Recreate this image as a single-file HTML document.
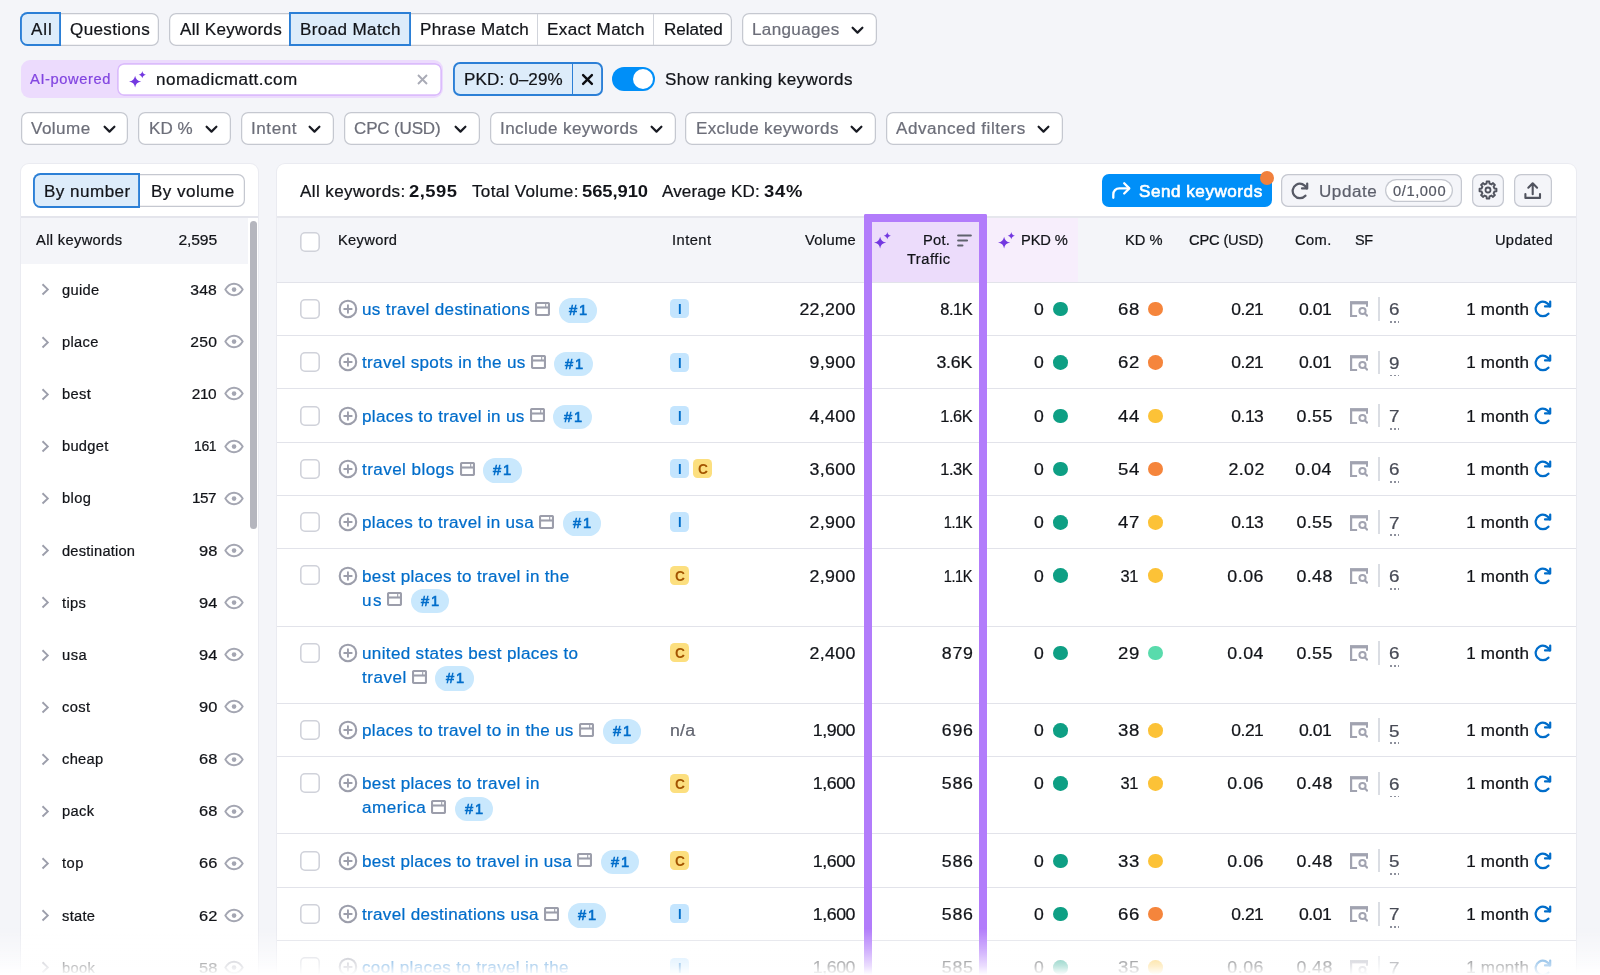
<!DOCTYPE html>
<html lang="en"><head><meta charset="utf-8"><title>Keyword Magic Tool</title>
<style>
*{box-sizing:border-box}
html,body{margin:0;padding:0}
body{width:1600px;height:975px;overflow:hidden;position:relative;background:#f4f5f9;font-family:"Liberation Sans",Arial,sans-serif;font-size:16px;color:#121419}
.abs{position:absolute}
.t{position:absolute;line-height:20px;white-space:nowrap;transform-origin:0 0;-webkit-text-stroke:.22px}
.box{position:absolute;border-radius:7px;background:#fff;box-shadow:inset 0 0 0 1.250px #c5c8d0}
.sel{position:absolute;background:#ddecfa;box-shadow:inset 0 0 0 1.900px #2b7fd6}
.vl{position:absolute;width:1px;background:#d1d4db}
.panel{position:absolute;background:#fff;border-radius:8px;box-shadow:0 0 0 1px #eaebf1}
.ln{position:absolute;left:277px;width:1299px;height:1.300px;background:#e2e3ea}
.cb{position:absolute;width:19.700px;height:20px;box-shadow:inset 0 0 0 1.600px #d0d2da;border-radius:5px;background:#fff}
.b1{position:absolute;width:38.600px;height:24.600px;border-radius:12.300px;background:#c9e8fd}
.int{position:absolute;height:19.200px;width:19.200px;border-radius:4.500px}
.int.I{background:#c4e5fe}
.int.C{background:#fcdf7f}
.dot{position:absolute;width:14.600px;height:14.600px;border-radius:50%}
.dot.t0{background:#0e9f84}.dot.o{background:#f5853c}.dot.y{background:#fcc237}.dot.g{background:#59dbac}
.dots{position:absolute;width:9.800px;height:1.900px;background:repeating-linear-gradient(to right,#8d909c 0,#8d909c 2px,transparent 2px,transparent 3.800px)}
</style></head><body>
<div id="app" style="will-change:transform;position:absolute;left:0;top:0;width:1600px;height:975px;overflow:hidden">

<div class="box" style="left:21px;top:12.500px;width:138px;height:33.500px"></div>
<div class="sel" style="left:20.400px;top:11.900px;width:40.600px;height:34.600px;border-radius:7.500px 0 0 7.500px"></div>
<div class="t" style="top:20.26px;font-size:16px;letter-spacing:0.83px;left:31.02px;transform:scaleX(1.065);">All</div>
<div class="t" style="top:20.26px;font-size:16px;letter-spacing:0.35px;left:70.27px;transform:scaleX(1.065);">Questions</div>
<div class="box" style="left:169px;top:12.500px;width:563px;height:33.500px"></div>
<div class="sel" style="left:289.300px;top:11.900px;width:121.400px;height:34.600px"></div>
<div class="vl" style="left:537px;top:13.500px;height:31.500px"></div>
<div class="vl" style="left:653px;top:13.500px;height:31.500px"></div>
<div class="t" style="top:20.26px;font-size:16px;letter-spacing:0.27px;left:179.52px;transform:scaleX(1.065);">All Keywords</div>
<div class="t" style="top:20.26px;font-size:16px;letter-spacing:0.36px;left:300.27px;transform:scaleX(1.065);">Broad Match</div>
<div class="t" style="top:20.26px;font-size:16px;letter-spacing:0.31px;left:419.52px;transform:scaleX(1.065);">Phrase Match</div>
<div class="t" style="top:20.26px;font-size:16px;letter-spacing:0.35px;left:547.02px;transform:scaleX(1.065);">Exact Match</div>
<div class="t" style="top:20.26px;font-size:16px;letter-spacing:0px;left:663.77px;transform:scaleX(1.065);">Related</div>
<div class="box" style="left:742px;top:12.500px;width:135px;height:33.500px"></div>
<div class="t" style="top:20.26px;font-size:16px;letter-spacing:0.34px;left:752.02px;transform:scaleX(1.065);color:#6c6e79;">Languages</div>
<svg class="abs" style="left:851px;top:25.7px" viewBox="0 0 13 9" width="13" height="9"><path d="M1.600 1.700l4.900 4.900 4.900-4.900" fill="none" stroke="#191b23" stroke-width="2.200" stroke-linecap="round" stroke-linejoin="round"/></svg>
<div class="abs" style="left:21px;top:60.200px;width:422px;height:37.400px;border-radius:9px;background:#ecdbfd"></div>
<div class="t" style="top:69.22px;font-size:14.67px;letter-spacing:0.6px;left:30.09px;transform:scaleX(1.002);color:#8245e0;">AI-powered</div>
<div class="abs" style="left:117px;top:62.500px;width:325px;height:33px;border-radius:7px;background:#fff;box-shadow:inset 0 0 0 1.700px #dbbcfc"></div>
<svg class="abs" style="left:129.1px;top:71.2px" viewBox="0 0 17 17" width="17" height="17"><path d="M6.1 4.7C6.77 8.24 8.54 9.95 12.2 10.6C8.54 11.25 6.77 12.96 6.1 16.5C5.43 12.96 3.66 11.25 0 10.6C3.66 9.95 5.43 8.24 6.1 4.7zM13.3 0.05C13.7 2.24 14.74 3.3 16.9 3.7C14.74 4.1 13.7 5.16 13.3 7.35C12.9 5.16 11.86 4.1 9.7 3.7C11.86 3.3 12.9 2.24 13.3 0.05z" fill="#7338e0"/></svg>
<div class="t" style="top:69.96px;font-size:16px;letter-spacing:0.45px;left:156.27px;transform:scaleX(1.065);">nomadicmatt.com</div>
<svg class="abs" style="left:417px;top:73.500px" width="11" height="11" viewBox="0 0 11 11"><path d="M1 1l9 9M10 1l-9 9" stroke="#a9abb6" stroke-width="1.900" fill="none"/></svg>
<div class="sel" style="left:452.800px;top:61.900px;width:150.400px;height:34px;border-radius:7px"></div>
<div class="abs" style="left:571.600px;top:63px;width:1.500px;height:32px;background:#2b7fd6"></div>
<div class="t" style="top:69.66px;font-size:16px;letter-spacing:0.12px;left:463.77px;transform:scaleX(1.065);">PKD: 0–29%</div>
<svg class="abs" style="left:580.600px;top:72.600px" width="13" height="13" viewBox="0 0 13 13"><path d="M2.100 2.100l8.800 8.800M10.900 2.100l-8.800 8.800" stroke="#0c0d12" stroke-width="2.400" stroke-linecap="round" fill="none"/></svg>
<div class="abs" style="left:612px;top:67px;width:42.600px;height:23.600px;border-radius:12px;background:#008ff8"></div>
<div class="abs" style="left:632.600px;top:68.800px;width:20px;height:20px;border-radius:50%;background:#fff"></div>
<div class="t" style="top:69.96px;font-size:16px;letter-spacing:0.35px;left:664.52px;transform:scaleX(1.065);">Show ranking keywords</div>
<div class="box" style="left:21px;top:112.300px;width:107.25px;height:33px"></div>
<div class="t" style="top:119.01px;font-size:16px;letter-spacing:0.44px;left:31.27px;transform:scaleX(1.065);color:#6c6e79;">Volume</div>
<svg class="abs" style="left:102.5px;top:125.2px" viewBox="0 0 13 9" width="13" height="9"><path d="M1.600 1.700l4.900 4.900 4.900-4.900" fill="none" stroke="#191b23" stroke-width="2.200" stroke-linecap="round" stroke-linejoin="round"/></svg>
<div class="box" style="left:138.25px;top:112.300px;width:93px;height:33px"></div>
<div class="t" style="top:119.01px;font-size:16px;letter-spacing:0.05px;left:148.77px;transform:scaleX(1.065);color:#6c6e79;">KD %</div>
<svg class="abs" style="left:205px;top:125.2px" viewBox="0 0 13 9" width="13" height="9"><path d="M1.600 1.700l4.900 4.900 4.900-4.900" fill="none" stroke="#191b23" stroke-width="2.200" stroke-linecap="round" stroke-linejoin="round"/></svg>
<div class="box" style="left:240.75px;top:112.300px;width:93.25px;height:33px"></div>
<div class="t" style="top:119.01px;font-size:16px;letter-spacing:0.53px;left:250.77px;transform:scaleX(1.065);color:#6c6e79;">Intent</div>
<svg class="abs" style="left:307.8px;top:125.2px" viewBox="0 0 13 9" width="13" height="9"><path d="M1.600 1.700l4.900 4.900 4.900-4.900" fill="none" stroke="#191b23" stroke-width="2.200" stroke-linecap="round" stroke-linejoin="round"/></svg>
<div class="box" style="left:344.25px;top:112.300px;width:135.25px;height:33px"></div>
<div class="t" style="top:119.01px;font-size:16px;letter-spacing:-0.16px;left:354.02px;transform:scaleX(1.065);color:#6c6e79;">CPC (USD)</div>
<svg class="abs" style="left:453.75px;top:125.2px" viewBox="0 0 13 9" width="13" height="9"><path d="M1.600 1.700l4.900 4.900 4.900-4.900" fill="none" stroke="#191b23" stroke-width="2.200" stroke-linecap="round" stroke-linejoin="round"/></svg>
<div class="box" style="left:489.5px;top:112.300px;width:186px;height:33px"></div>
<div class="t" style="top:119.01px;font-size:16px;letter-spacing:0.39px;left:499.52px;transform:scaleX(1.065);color:#6c6e79;">Include keywords</div>
<svg class="abs" style="left:649.5px;top:125.2px" viewBox="0 0 13 9" width="13" height="9"><path d="M1.600 1.700l4.900 4.900 4.900-4.900" fill="none" stroke="#191b23" stroke-width="2.200" stroke-linecap="round" stroke-linejoin="round"/></svg>
<div class="box" style="left:685px;top:112.300px;width:190.75px;height:33px"></div>
<div class="t" style="top:119.01px;font-size:16px;letter-spacing:0.32px;left:695.77px;transform:scaleX(1.065);color:#6c6e79;">Exclude keywords</div>
<svg class="abs" style="left:850px;top:125.2px" viewBox="0 0 13 9" width="13" height="9"><path d="M1.600 1.700l4.900 4.900 4.900-4.900" fill="none" stroke="#191b23" stroke-width="2.200" stroke-linecap="round" stroke-linejoin="round"/></svg>
<div class="box" style="left:885.75px;top:112.300px;width:176.75px;height:33px"></div>
<div class="t" style="top:119.01px;font-size:16px;letter-spacing:0.5px;left:896.27px;transform:scaleX(1.065);color:#6c6e79;">Advanced filters</div>
<svg class="abs" style="left:1036.5px;top:125.2px" viewBox="0 0 13 9" width="13" height="9"><path d="M1.600 1.700l4.900 4.900 4.900-4.900" fill="none" stroke="#191b23" stroke-width="2.200" stroke-linecap="round" stroke-linejoin="round"/></svg>
<div class="panel" style="left:21.300px;top:164px;width:236.600px;height:830px"></div>
<div class="box" style="left:33.750px;top:173.750px;width:211.500px;height:33.500px"></div>
<div class="sel" style="left:33.300px;top:173.200px;width:106.500px;height:34.600px;border-radius:7.500px 0 0 7.500px"></div>
<div class="t" style="top:181.66px;font-size:16px;letter-spacing:0.45px;left:44.02px;transform:scaleX(1.065);">By number</div>
<div class="t" style="top:181.66px;font-size:16px;letter-spacing:0.43px;left:151.02px;transform:scaleX(1.065);">By volume</div>
<div class="abs" style="left:21px;top:216.300px;width:237px;height:1.300px;background:#e4e5ec"></div>
<div class="abs" style="left:21px;top:217.600px;width:227px;height:46.400px;background:#f4f5f9"></div>
<div class="t" style="top:230.02px;font-size:14.67px;letter-spacing:0.34px;left:35.79px;transform:scaleX(1.002);">All keywords</div>
<div class="t" style="top:230.02px;font-size:14.67px;letter-spacing:-0.14px;right:1383.41px;transform-origin:100% 0;transform:scaleX(1.070);">2,595</div>
<div class="abs" style="left:249.800px;top:221px;width:7px;height:308px;border-radius:3.500px;background:#b5b6be"></div>
<svg class="abs" style="left:41px;top:283.45px" viewBox="0 0 9 13" width="9" height="13"><path d="M1.500 1.300l5.300 5.100-5.300 5.100" fill="none" stroke="#9c9eab" stroke-width="1.900" stroke-linejoin="miter"/></svg>
<div class="t" style="top:279.77px;font-size:14.67px;letter-spacing:0.3px;left:61.59px;transform:scaleX(1.002);">guide</div>
<div class="t" style="top:279.77px;font-size:14.67px;letter-spacing:0.15px;right:1382.9px;transform-origin:100% 0;transform:scaleX(1.070);">348</div>
<svg class="abs" style="left:224.200px;top:282.15px" viewBox="0 0 20 15" width="20" height="15"><path d="M1.300 7.500C3.600 3.700 6.500 1.700 10 1.700s6.400 2 8.700 5.800c-2.300 3.800-5.200 5.800-8.700 5.800S3.600 11.300 1.300 7.500z" fill="none" stroke="#a4a6b2" stroke-width="1.900" stroke-linejoin="round"/><circle cx="10.050" cy="7.600" r="2.300" fill="#a4a6b2"/></svg>
<svg class="abs" style="left:41px;top:335.6px" viewBox="0 0 9 13" width="9" height="13"><path d="M1.500 1.300l5.300 5.100-5.300 5.100" fill="none" stroke="#9c9eab" stroke-width="1.900" stroke-linejoin="miter"/></svg>
<div class="t" style="top:331.92px;font-size:14.67px;letter-spacing:0.3px;left:61.59px;transform:scaleX(1.002);">place</div>
<div class="t" style="top:331.92px;font-size:14.67px;letter-spacing:0.25px;right:1382.79px;transform-origin:100% 0;transform:scaleX(1.070);">250</div>
<svg class="abs" style="left:224.200px;top:334.3px" viewBox="0 0 20 15" width="20" height="15"><path d="M1.300 7.500C3.600 3.700 6.500 1.700 10 1.700s6.400 2 8.700 5.800c-2.300 3.800-5.200 5.800-8.700 5.800S3.600 11.300 1.300 7.500z" fill="none" stroke="#a4a6b2" stroke-width="1.900" stroke-linejoin="round"/><circle cx="10.050" cy="7.600" r="2.300" fill="#a4a6b2"/></svg>
<svg class="abs" style="left:41px;top:387.75px" viewBox="0 0 9 13" width="9" height="13"><path d="M1.500 1.300l5.300 5.100-5.300 5.100" fill="none" stroke="#9c9eab" stroke-width="1.900" stroke-linejoin="miter"/></svg>
<div class="t" style="top:384.07px;font-size:14.67px;letter-spacing:0.35px;left:61.59px;transform:scaleX(1.002);">best</div>
<div class="t" style="top:384.07px;font-size:14.67px;letter-spacing:-0.45px;right:1383.54px;transform-origin:100% 0;transform:scaleX(1.051);">210</div>
<svg class="abs" style="left:224.200px;top:386.45px" viewBox="0 0 20 15" width="20" height="15"><path d="M1.300 7.500C3.600 3.700 6.500 1.700 10 1.700s6.400 2 8.700 5.800c-2.300 3.800-5.200 5.800-8.700 5.800S3.600 11.300 1.300 7.500z" fill="none" stroke="#a4a6b2" stroke-width="1.900" stroke-linejoin="round"/><circle cx="10.050" cy="7.600" r="2.300" fill="#a4a6b2"/></svg>
<svg class="abs" style="left:41px;top:439.9px" viewBox="0 0 9 13" width="9" height="13"><path d="M1.500 1.300l5.300 5.100-5.300 5.100" fill="none" stroke="#9c9eab" stroke-width="1.900" stroke-linejoin="miter"/></svg>
<div class="t" style="top:436.22px;font-size:14.67px;letter-spacing:0.26px;left:61.59px;transform:scaleX(1.002);">budget</div>
<div class="t" style="top:436.22px;font-size:14.67px;letter-spacing:-0.45px;right:1383.54px;transform-origin:100% 0;transform:scaleX(0.955);">161</div>
<svg class="abs" style="left:224.200px;top:438.6px" viewBox="0 0 20 15" width="20" height="15"><path d="M1.300 7.500C3.600 3.700 6.500 1.700 10 1.700s6.400 2 8.700 5.800c-2.300 3.800-5.200 5.800-8.700 5.800S3.600 11.300 1.300 7.500z" fill="none" stroke="#a4a6b2" stroke-width="1.900" stroke-linejoin="round"/><circle cx="10.050" cy="7.600" r="2.300" fill="#a4a6b2"/></svg>
<svg class="abs" style="left:41px;top:492.05px" viewBox="0 0 9 13" width="9" height="13"><path d="M1.500 1.300l5.300 5.100-5.300 5.100" fill="none" stroke="#9c9eab" stroke-width="1.900" stroke-linejoin="miter"/></svg>
<div class="t" style="top:488.37px;font-size:14.67px;letter-spacing:0.35px;left:61.59px;transform:scaleX(1.002);">blog</div>
<div class="t" style="top:488.37px;font-size:14.67px;letter-spacing:-0.45px;right:1383.54px;transform-origin:100% 0;transform:scaleX(1.042);">157</div>
<svg class="abs" style="left:224.200px;top:490.75px" viewBox="0 0 20 15" width="20" height="15"><path d="M1.300 7.500C3.600 3.700 6.500 1.700 10 1.700s6.400 2 8.700 5.800c-2.300 3.800-5.200 5.800-8.700 5.800S3.600 11.300 1.300 7.500z" fill="none" stroke="#a4a6b2" stroke-width="1.900" stroke-linejoin="round"/><circle cx="10.050" cy="7.600" r="2.300" fill="#a4a6b2"/></svg>
<svg class="abs" style="left:41px;top:544.2px" viewBox="0 0 9 13" width="9" height="13"><path d="M1.500 1.300l5.300 5.100-5.300 5.100" fill="none" stroke="#9c9eab" stroke-width="1.900" stroke-linejoin="miter"/></svg>
<div class="t" style="top:540.52px;font-size:14.67px;letter-spacing:0.2px;left:61.59px;transform:scaleX(1.002);">destination</div>
<div class="t" style="top:540.52px;font-size:14.67px;letter-spacing:-0.05px;right:1383.1px;transform-origin:100% 0;transform:scaleX(1.120);">98</div>
<svg class="abs" style="left:224.200px;top:542.9px" viewBox="0 0 20 15" width="20" height="15"><path d="M1.300 7.500C3.600 3.700 6.500 1.700 10 1.700s6.400 2 8.700 5.800c-2.300 3.800-5.200 5.800-8.700 5.800S3.600 11.300 1.300 7.500z" fill="none" stroke="#a4a6b2" stroke-width="1.900" stroke-linejoin="round"/><circle cx="10.050" cy="7.600" r="2.300" fill="#a4a6b2"/></svg>
<svg class="abs" style="left:41px;top:596.35px" viewBox="0 0 9 13" width="9" height="13"><path d="M1.500 1.300l5.300 5.100-5.300 5.100" fill="none" stroke="#9c9eab" stroke-width="1.900" stroke-linejoin="miter"/></svg>
<div class="t" style="top:592.67px;font-size:14.67px;letter-spacing:0.35px;left:61.59px;transform:scaleX(1.002);">tips</div>
<div class="t" style="top:592.67px;font-size:14.67px;letter-spacing:-0.05px;right:1383.1px;transform-origin:100% 0;transform:scaleX(1.120);">94</div>
<svg class="abs" style="left:224.200px;top:595.05px" viewBox="0 0 20 15" width="20" height="15"><path d="M1.300 7.500C3.600 3.700 6.500 1.700 10 1.700s6.400 2 8.700 5.800c-2.300 3.800-5.200 5.800-8.700 5.800S3.600 11.300 1.300 7.500z" fill="none" stroke="#a4a6b2" stroke-width="1.900" stroke-linejoin="round"/><circle cx="10.050" cy="7.600" r="2.300" fill="#a4a6b2"/></svg>
<svg class="abs" style="left:41px;top:648.5px" viewBox="0 0 9 13" width="9" height="13"><path d="M1.500 1.300l5.300 5.100-5.300 5.100" fill="none" stroke="#9c9eab" stroke-width="1.900" stroke-linejoin="miter"/></svg>
<div class="t" style="top:644.82px;font-size:14.67px;letter-spacing:0.46px;left:61.59px;transform:scaleX(1.002);">usa</div>
<div class="t" style="top:644.82px;font-size:14.67px;letter-spacing:-0.05px;right:1383.1px;transform-origin:100% 0;transform:scaleX(1.120);">94</div>
<svg class="abs" style="left:224.200px;top:647.2px" viewBox="0 0 20 15" width="20" height="15"><path d="M1.300 7.500C3.600 3.700 6.500 1.700 10 1.700s6.400 2 8.700 5.800c-2.300 3.800-5.200 5.800-8.700 5.800S3.600 11.300 1.300 7.500z" fill="none" stroke="#a4a6b2" stroke-width="1.900" stroke-linejoin="round"/><circle cx="10.050" cy="7.600" r="2.300" fill="#a4a6b2"/></svg>
<svg class="abs" style="left:41px;top:700.65px" viewBox="0 0 9 13" width="9" height="13"><path d="M1.500 1.300l5.300 5.100-5.300 5.100" fill="none" stroke="#9c9eab" stroke-width="1.900" stroke-linejoin="miter"/></svg>
<div class="t" style="top:696.97px;font-size:14.67px;letter-spacing:0.35px;left:61.59px;transform:scaleX(1.002);">cost</div>
<div class="t" style="top:696.97px;font-size:14.67px;letter-spacing:0.14px;right:1382.88px;transform-origin:100% 0;transform:scaleX(1.120);">90</div>
<svg class="abs" style="left:224.200px;top:699.35px" viewBox="0 0 20 15" width="20" height="15"><path d="M1.300 7.500C3.600 3.700 6.500 1.700 10 1.700s6.400 2 8.700 5.800c-2.300 3.800-5.200 5.800-8.700 5.800S3.600 11.300 1.300 7.500z" fill="none" stroke="#a4a6b2" stroke-width="1.900" stroke-linejoin="round"/><circle cx="10.050" cy="7.600" r="2.300" fill="#a4a6b2"/></svg>
<svg class="abs" style="left:41px;top:752.8px" viewBox="0 0 9 13" width="9" height="13"><path d="M1.500 1.300l5.300 5.100-5.300 5.100" fill="none" stroke="#9c9eab" stroke-width="1.900" stroke-linejoin="miter"/></svg>
<div class="t" style="top:749.12px;font-size:14.67px;letter-spacing:0.3px;left:61.59px;transform:scaleX(1.002);">cheap</div>
<div class="t" style="top:749.12px;font-size:14.67px;letter-spacing:-0.05px;right:1383.1px;transform-origin:100% 0;transform:scaleX(1.120);">68</div>
<svg class="abs" style="left:224.200px;top:751.5px" viewBox="0 0 20 15" width="20" height="15"><path d="M1.300 7.500C3.600 3.700 6.500 1.700 10 1.700s6.400 2 8.700 5.800c-2.300 3.800-5.200 5.800-8.700 5.800S3.600 11.300 1.300 7.500z" fill="none" stroke="#a4a6b2" stroke-width="1.900" stroke-linejoin="round"/><circle cx="10.050" cy="7.600" r="2.300" fill="#a4a6b2"/></svg>
<svg class="abs" style="left:41px;top:804.95px" viewBox="0 0 9 13" width="9" height="13"><path d="M1.500 1.300l5.300 5.100-5.300 5.100" fill="none" stroke="#9c9eab" stroke-width="1.900" stroke-linejoin="miter"/></svg>
<div class="t" style="top:801.27px;font-size:14.67px;letter-spacing:0.35px;left:61.59px;transform:scaleX(1.002);">pack</div>
<div class="t" style="top:801.27px;font-size:14.67px;letter-spacing:-0.05px;right:1383.1px;transform-origin:100% 0;transform:scaleX(1.120);">68</div>
<svg class="abs" style="left:224.200px;top:803.65px" viewBox="0 0 20 15" width="20" height="15"><path d="M1.300 7.500C3.600 3.700 6.500 1.700 10 1.700s6.400 2 8.700 5.800c-2.300 3.800-5.200 5.800-8.700 5.800S3.600 11.300 1.300 7.500z" fill="none" stroke="#a4a6b2" stroke-width="1.900" stroke-linejoin="round"/><circle cx="10.050" cy="7.600" r="2.300" fill="#a4a6b2"/></svg>
<svg class="abs" style="left:41px;top:857.1px" viewBox="0 0 9 13" width="9" height="13"><path d="M1.500 1.300l5.300 5.100-5.300 5.100" fill="none" stroke="#9c9eab" stroke-width="1.900" stroke-linejoin="miter"/></svg>
<div class="t" style="top:853.42px;font-size:14.67px;letter-spacing:0.46px;left:61.59px;transform:scaleX(1.002);">top</div>
<div class="t" style="top:853.42px;font-size:14.67px;letter-spacing:-0.05px;right:1383.1px;transform-origin:100% 0;transform:scaleX(1.120);">66</div>
<svg class="abs" style="left:224.200px;top:855.8px" viewBox="0 0 20 15" width="20" height="15"><path d="M1.300 7.500C3.600 3.700 6.500 1.700 10 1.700s6.400 2 8.700 5.800c-2.300 3.800-5.200 5.800-8.700 5.800S3.600 11.300 1.300 7.500z" fill="none" stroke="#a4a6b2" stroke-width="1.900" stroke-linejoin="round"/><circle cx="10.050" cy="7.600" r="2.300" fill="#a4a6b2"/></svg>
<svg class="abs" style="left:41px;top:909.25px" viewBox="0 0 9 13" width="9" height="13"><path d="M1.500 1.300l5.300 5.100-5.300 5.100" fill="none" stroke="#9c9eab" stroke-width="1.900" stroke-linejoin="miter"/></svg>
<div class="t" style="top:905.57px;font-size:14.67px;letter-spacing:0.3px;left:61.59px;transform:scaleX(1.002);">state</div>
<div class="t" style="top:905.57px;font-size:14.67px;letter-spacing:-0.05px;right:1383.1px;transform-origin:100% 0;transform:scaleX(1.120);">62</div>
<svg class="abs" style="left:224.200px;top:907.95px" viewBox="0 0 20 15" width="20" height="15"><path d="M1.300 7.500C3.600 3.700 6.500 1.700 10 1.700s6.400 2 8.700 5.800c-2.300 3.800-5.200 5.800-8.700 5.800S3.600 11.300 1.300 7.500z" fill="none" stroke="#a4a6b2" stroke-width="1.900" stroke-linejoin="round"/><circle cx="10.050" cy="7.600" r="2.300" fill="#a4a6b2"/></svg>
<svg class="abs" style="left:41px;top:961.4px" viewBox="0 0 9 13" width="9" height="13"><path d="M1.500 1.300l5.300 5.100-5.300 5.100" fill="none" stroke="#9c9eab" stroke-width="1.900" stroke-linejoin="miter"/></svg>
<div class="t" style="top:957.72px;font-size:14.67px;letter-spacing:0.35px;left:61.59px;transform:scaleX(1.002);">book</div>
<div class="t" style="top:957.72px;font-size:14.67px;letter-spacing:-0.05px;right:1383.1px;transform-origin:100% 0;transform:scaleX(1.120);">58</div>
<svg class="abs" style="left:224.200px;top:960.1px" viewBox="0 0 20 15" width="20" height="15"><path d="M1.300 7.500C3.600 3.700 6.500 1.700 10 1.700s6.400 2 8.700 5.800c-2.300 3.800-5.200 5.800-8.700 5.800S3.600 11.300 1.300 7.500z" fill="none" stroke="#a4a6b2" stroke-width="1.900" stroke-linejoin="round"/><circle cx="10.050" cy="7.600" r="2.300" fill="#a4a6b2"/></svg>
<div class="panel" style="left:277px;top:164px;width:1299px;height:830px"></div>
<div class="t" style="top:181.51px;font-size:16px;letter-spacing:0.38px;left:300.27px;transform:scaleX(1.065);">All keywords:</div>
<div class="t" style="top:181.51px;font-size:16px;letter-spacing:0.44px;left:409.48px;transform:scaleX(1.150);font-weight:700;-webkit-text-stroke:0;">2,595</div>
<div class="t" style="top:181.51px;font-size:16px;letter-spacing:0.32px;left:471.52px;transform:scaleX(1.065);">Total Volume:</div>
<div class="t" style="top:181.51px;font-size:16px;letter-spacing:-0.06px;left:581.98px;transform:scaleX(1.150);font-weight:700;-webkit-text-stroke:0;">565,910</div>
<div class="t" style="top:181.51px;font-size:16px;letter-spacing:0.13px;left:661.52px;transform:scaleX(1.065);">Average KD:</div>
<div class="t" style="top:181.51px;font-size:16px;letter-spacing:0.66px;left:763.73px;transform:scaleX(1.150);font-weight:700;-webkit-text-stroke:0;">34%</div>
<div class="abs" style="left:1101.500px;top:173.800px;width:170px;height:33px;border-radius:7px;background:#008ff8"></div>
<svg class="abs" style="left:1110.500px;top:180.500px" width="21" height="19" viewBox="0 0 21 19"><path d="M2.300 16.800v-3.300c0-3.700 2.400-6.100 6.100-6.100h9.200" fill="none" stroke="#fff" stroke-width="2.300" stroke-linecap="round"/><path d="M13.200 2.300l5.100 5.100-5.100 5.100" fill="none" stroke="#fff" stroke-width="2.300" stroke-linecap="round" stroke-linejoin="round"/></svg>
<div class="t" style="top:181.86px;font-size:16px;letter-spacing:0.52px;left:1138.82px;transform:scaleX(1.065);color:#fff;-webkit-text-stroke:.6px #fff;">Send keywords</div>
<div class="abs" style="left:1260px;top:171.400px;width:14px;height:14px;border-radius:50%;background:#f1803c"></div>
<div class="box" style="left:1281.250px;top:173.800px;width:180.750px;height:33px;background:#f4f5f9"></div>
<svg class="abs" style="left:1291px;top:181.700px" width="19" height="19" viewBox="0 0 19 19"><path d="M14.400 13.700A7.250 7.250 0 1 1 15.700 6.400" fill="none" stroke="#565965" stroke-width="2.250" stroke-linecap="round"/><path d="M16.200 1.500V6.400H11" fill="none" stroke="#565965" stroke-width="2.200" stroke-linecap="round" stroke-linejoin="round"/></svg>
<div class="t" style="top:181.66px;font-size:16px;letter-spacing:0.52px;left:1318.52px;transform:scaleX(1.065);color:#5d606c;">Update</div>
<div class="box" style="left:1385.300px;top:179px;width:67.800px;height:23px;border-radius:11.500px"></div>
<div class="t" style="top:181.02px;font-size:14.67px;letter-spacing:0.59px;left:1393.29px;transform:scaleX(1.002);color:#555863;">0/1,000</div>
<div class="box" style="left:1471.700px;top:173.800px;width:32.500px;height:33px;background:#f4f5f9"></div>
<svg class="abs" style="left:1478px;top:180.400px" width="20" height="20" viewBox="0 0 20 20"><path d="M8.47 3.63L8.66 1.56L11.34 1.56L11.53 3.63L13.42 4.42L15.03 3.08L16.92 4.97L15.58 6.58L16.37 8.47L18.44 8.66L18.44 11.34L16.37 11.53L15.58 13.42L16.92 15.03L15.03 16.92L13.42 15.58L11.53 16.37L11.34 18.44L8.66 18.44L8.47 16.37L6.58 15.58L4.97 16.92L3.08 15.03L4.42 13.42L3.63 11.53L1.56 11.34L1.56 8.66L3.63 8.47L4.42 6.58L3.08 4.97L4.97 3.08L6.58 4.42z" fill="none" stroke="#50535e" stroke-width="1.900" stroke-linejoin="round"/><circle cx="10" cy="10" r="2.500" fill="none" stroke="#50535e" stroke-width="1.800"/></svg>
<div class="box" style="left:1513.800px;top:173.800px;width:38.600px;height:33px;background:#f4f5f9"></div>
<svg class="abs" style="left:1523px;top:181px" width="20" height="19" viewBox="0 0 20 19"><path d="M9.700 13.200V2.300M5.300 6.700l4.400-4.400 4.400 4.400" fill="none" stroke="#50535e" stroke-width="2.100" stroke-linecap="round" stroke-linejoin="round"/><path d="M2.400 13v3.900h14.600V13" fill="none" stroke="#50535e" stroke-width="2.100" stroke-linecap="round" stroke-linejoin="round"/></svg>
<div class="abs" style="left:277px;top:217.500px;width:1299px;height:64.500px;background:#f4f5f9"></div>
<div class="ln" style="top:216.400px;background:#e6e7ed"></div>
<div class="abs" style="left:986px;top:217.700px;width:91.500px;height:64.300px;background:#f7eefc"></div>
<div class="cb" style="left:300.100px;top:232.200px"></div>
<div class="t" style="top:230.02px;font-size:14.67px;letter-spacing:0.31px;left:338.34px;transform:scaleX(1.002);">Keyword</div>
<div class="t" style="top:230.02px;font-size:14.67px;letter-spacing:0.45px;left:672.09px;transform:scaleX(1.002);">Intent</div>
<div class="t" style="top:230.02px;font-size:14.67px;letter-spacing:0.36px;left:804.59px;transform:scaleX(1.002);">Volume</div>
<svg class="abs" style="left:997.9px;top:232.1px" viewBox="0 0 17 17" width="17" height="17"><path d="M6.1 4.7C6.77 8.24 8.54 9.95 12.2 10.6C8.54 11.25 6.77 12.96 6.1 16.5C5.43 12.96 3.66 11.25 0 10.6C3.66 9.95 5.43 8.24 6.1 4.7zM13.3 0.05C13.7 2.24 14.74 3.3 16.9 3.7C14.74 4.1 13.7 5.16 13.3 7.35C12.9 5.16 11.86 4.1 9.7 3.7C11.86 3.3 12.9 2.24 13.3 0.05z" fill="#7338e0"/></svg>
<div class="t" style="top:230.02px;font-size:14.67px;letter-spacing:-0.14px;left:1021.34px;transform:scaleX(1.002);">PKD %</div>
<div class="t" style="top:230.02px;font-size:14.67px;letter-spacing:-0.01px;left:1125.34px;transform:scaleX(1.002);">KD %</div>
<div class="t" style="top:230.02px;font-size:14.67px;letter-spacing:-0.17px;left:1189.09px;transform:scaleX(1.002);">CPC (USD)</div>
<div class="t" style="top:230.02px;font-size:14.67px;letter-spacing:0.39px;left:1295.34px;transform:scaleX(1.002);">Com.</div>
<div class="t" style="top:230.02px;font-size:14.67px;letter-spacing:-0.45px;left:1354.59px;transform:scaleX(0.986);">SF</div>
<div class="t" style="top:230.02px;font-size:14.67px;letter-spacing:0.38px;right:47.2px;transform-origin:100% 0;transform:scaleX(1.002);">Updated</div>
<div class="ln" style="top:282px"></div>
<div class="cb" style="left:300.100px;top:298.9px"></div>
<svg class="abs" style="left:337.800px;top:299px" viewBox="0 0 20 20" width="20" height="20"><circle cx="9.950" cy="9.950" r="8.250" fill="none" stroke="#9c9eab" stroke-width="2.100"/><path d="M9.950 6.200v7.500M6.200 9.950h7.500" stroke="#9c9eab" stroke-width="1.900" stroke-linecap="round" fill="none"/></svg>
<div class="t" style="top:300.06px;font-size:16px;letter-spacing:0.34px;left:362.32px;transform:scaleX(1.065);color:#006dca;">us travel destinations</div>
<svg class="abs" style="left:535.2px;top:301.7px" viewBox="0 0 15 14" width="15" height="14"><rect x="1" y="1" width="13" height="12" rx="1.200" fill="none" stroke="#9c9eab" stroke-width="2.150"/><path d="M1 5.500h13" stroke="#9c9eab" stroke-width="2.100" fill="none"/><path d="M10.700 1v4.500" stroke="#9c9eab" stroke-width="1.100" fill="none"/></svg>
<div class="b1" style="left:558.7px;top:298.2px"></div>
<div class="t" style="top:300.24px;font-size:14.6px;letter-spacing:1.82px;left:568.99px;transform:scaleX(1.002);color:#006dca;-webkit-text-stroke:.6px;">#1</div>
<div class="int I" style="left:670.2px;top:299.2px"></div>
<div class="t" style="top:299.24px;font-size:14.6px;left:677.83px;transform:scaleX(0.896);font-weight:700;-webkit-text-stroke:0;color:#006dca;">I</div>
<div class="t" style="top:300.06px;font-size:16px;letter-spacing:0.27px;right:744.7px;transform-origin:100% 0;transform:scaleX(1.110);">22,200</div>
<div class="t" style="top:300.06px;font-size:16px;letter-spacing:-0.45px;right:628.2px;transform-origin:100% 0;transform:scaleX(1.023);">8.1K</div>
<div class="t" style="top:300.06px;font-size:16px;right:555.7px;transform-origin:100% 0;transform:scaleX(1.100);">0</div>
<div class="dot t0" style="left:1053.400px;top:301.9px"></div>
<div class="t" style="top:300.06px;font-size:16px;letter-spacing:0.61px;right:460.47px;transform-origin:100% 0;transform:scaleX(1.160);">68</div>
<div class="dot o" style="left:1148.300px;top:301.9px"></div>
<div class="t" style="top:300.06px;font-size:16px;letter-spacing:-0.45px;right:336.7px;transform-origin:100% 0;transform:scaleX(1.091);">0.21</div>
<div class="t" style="top:300.06px;font-size:16px;letter-spacing:-0.45px;right:268.7px;transform-origin:100% 0;transform:scaleX(1.100);">0.01</div>
<svg class="abs" style="left:1349.800px;top:301.3px" viewBox="0 0 18 16" width="18" height="16"><path d="M0 .1h18v3.300H0z" fill="#a1a3b0"/><path d="M1.100 3v12.100h6" fill="none" stroke="#a1a3b0" stroke-width="2.200"/><path d="M17 3v2.700" fill="none" stroke="#a1a3b0" stroke-width="2"/><circle cx="12.500" cy="10" r="3.100" fill="none" stroke="#a1a3b0" stroke-width="2"/><path d="M14.800 12.300l2.900 2.900" stroke="#a1a3b0" stroke-width="2.100" fill="none"/></svg>
<div class="abs" style="left:1378.100px;top:297.2px;width:1.600px;height:23.500px;background:#dadde3"></div>
<div class="t" style="top:300.46px;font-size:16px;left:1388.97px;transform:scaleX(1.175);color:#484b56;">6</div>
<div class="dots" style="left:1389.500px;top:321.2px"></div>
<div class="t" style="top:300.06px;font-size:16px;letter-spacing:0.18px;right:71.13px;transform-origin:100% 0;transform:scaleX(1.065);">1 month</div>
<svg class="abs" style="left:1534.300px;top:300.2px" viewBox="0 0 19 19" width="19" height="19"><path d="M14.400 13.700A7.250 7.250 0 1 1 15.700 6.400" fill="none" stroke="#006dca" stroke-width="2.250" stroke-linecap="round"/><path d="M16.200 1.500V6.400H11" fill="none" stroke="#006dca" stroke-width="2.200" stroke-linecap="round" stroke-linejoin="round"/></svg>
<div class="ln" style="top:335px"></div>
<div class="cb" style="left:300.100px;top:352.2px"></div>
<svg class="abs" style="left:337.800px;top:352.3px" viewBox="0 0 20 20" width="20" height="20"><circle cx="9.950" cy="9.950" r="8.250" fill="none" stroke="#9c9eab" stroke-width="2.100"/><path d="M9.950 6.200v7.500M6.200 9.950h7.500" stroke="#9c9eab" stroke-width="1.900" stroke-linecap="round" fill="none"/></svg>
<div class="t" style="top:353.36px;font-size:16px;letter-spacing:0.31px;left:362.32px;transform:scaleX(1.065);color:#006dca;">travel spots in the us</div>
<svg class="abs" style="left:530.9px;top:355px" viewBox="0 0 15 14" width="15" height="14"><rect x="1" y="1" width="13" height="12" rx="1.200" fill="none" stroke="#9c9eab" stroke-width="2.150"/><path d="M1 5.500h13" stroke="#9c9eab" stroke-width="2.100" fill="none"/><path d="M10.700 1v4.500" stroke="#9c9eab" stroke-width="1.100" fill="none"/></svg>
<div class="b1" style="left:554.4px;top:351.5px"></div>
<div class="t" style="top:353.54px;font-size:14.6px;letter-spacing:1.82px;left:564.69px;transform:scaleX(1.002);color:#006dca;-webkit-text-stroke:.6px;">#1</div>
<div class="int I" style="left:670.2px;top:352.5px"></div>
<div class="t" style="top:352.54px;font-size:14.6px;left:677.83px;transform:scaleX(0.896);font-weight:700;-webkit-text-stroke:0;color:#006dca;">I</div>
<div class="t" style="top:353.36px;font-size:16px;letter-spacing:0.34px;right:744.62px;transform-origin:100% 0;transform:scaleX(1.110);">9,900</div>
<div class="t" style="top:353.36px;font-size:16px;letter-spacing:-0.23px;right:627.95px;transform-origin:100% 0;transform:scaleX(1.110);">3.6K</div>
<div class="t" style="top:353.36px;font-size:16px;right:555.7px;transform-origin:100% 0;transform:scaleX(1.100);">0</div>
<div class="dot t0" style="left:1053.400px;top:355.2px"></div>
<div class="t" style="top:353.36px;font-size:16px;letter-spacing:0.61px;right:460.47px;transform-origin:100% 0;transform:scaleX(1.160);">62</div>
<div class="dot o" style="left:1148.300px;top:355.2px"></div>
<div class="t" style="top:353.36px;font-size:16px;letter-spacing:-0.45px;right:336.7px;transform-origin:100% 0;transform:scaleX(1.091);">0.21</div>
<div class="t" style="top:353.36px;font-size:16px;letter-spacing:-0.45px;right:268.7px;transform-origin:100% 0;transform:scaleX(1.100);">0.01</div>
<svg class="abs" style="left:1349.800px;top:354.6px" viewBox="0 0 18 16" width="18" height="16"><path d="M0 .1h18v3.300H0z" fill="#a1a3b0"/><path d="M1.100 3v12.100h6" fill="none" stroke="#a1a3b0" stroke-width="2.200"/><path d="M17 3v2.700" fill="none" stroke="#a1a3b0" stroke-width="2"/><circle cx="12.500" cy="10" r="3.100" fill="none" stroke="#a1a3b0" stroke-width="2"/><path d="M14.800 12.300l2.900 2.900" stroke="#a1a3b0" stroke-width="2.100" fill="none"/></svg>
<div class="abs" style="left:1378.100px;top:350.5px;width:1.600px;height:23.500px;background:#dadde3"></div>
<div class="t" style="top:353.76px;font-size:16px;left:1388.97px;transform:scaleX(1.175);color:#484b56;">9</div>
<div class="dots" style="left:1389.500px;top:374.5px"></div>
<div class="t" style="top:353.36px;font-size:16px;letter-spacing:0.18px;right:71.13px;transform-origin:100% 0;transform:scaleX(1.065);">1 month</div>
<svg class="abs" style="left:1534.300px;top:353.5px" viewBox="0 0 19 19" width="19" height="19"><path d="M14.400 13.700A7.250 7.250 0 1 1 15.700 6.400" fill="none" stroke="#006dca" stroke-width="2.250" stroke-linecap="round"/><path d="M16.200 1.500V6.400H11" fill="none" stroke="#006dca" stroke-width="2.200" stroke-linecap="round" stroke-linejoin="round"/></svg>
<div class="ln" style="top:388px"></div>
<div class="cb" style="left:300.100px;top:405.5px"></div>
<svg class="abs" style="left:337.800px;top:405.6px" viewBox="0 0 20 20" width="20" height="20"><circle cx="9.950" cy="9.950" r="8.250" fill="none" stroke="#9c9eab" stroke-width="2.100"/><path d="M9.950 6.200v7.500M6.200 9.950h7.500" stroke="#9c9eab" stroke-width="1.900" stroke-linecap="round" fill="none"/></svg>
<div class="t" style="top:406.66px;font-size:16px;letter-spacing:0.31px;left:362.32px;transform:scaleX(1.065);color:#006dca;">places to travel in us</div>
<svg class="abs" style="left:529.8px;top:408.3px" viewBox="0 0 15 14" width="15" height="14"><rect x="1" y="1" width="13" height="12" rx="1.200" fill="none" stroke="#9c9eab" stroke-width="2.150"/><path d="M1 5.500h13" stroke="#9c9eab" stroke-width="2.100" fill="none"/><path d="M10.700 1v4.500" stroke="#9c9eab" stroke-width="1.100" fill="none"/></svg>
<div class="b1" style="left:553.3px;top:404.8px"></div>
<div class="t" style="top:406.84px;font-size:14.6px;letter-spacing:1.82px;left:563.59px;transform:scaleX(1.002);color:#006dca;-webkit-text-stroke:.6px;">#1</div>
<div class="int I" style="left:670.2px;top:405.8px"></div>
<div class="t" style="top:405.84px;font-size:14.6px;left:677.83px;transform:scaleX(0.896);font-weight:700;-webkit-text-stroke:0;color:#006dca;">I</div>
<div class="t" style="top:406.66px;font-size:16px;letter-spacing:0.34px;right:744.62px;transform-origin:100% 0;transform:scaleX(1.110);">4,400</div>
<div class="t" style="top:406.66px;font-size:16px;letter-spacing:-0.45px;right:628.2px;transform-origin:100% 0;transform:scaleX(1.023);">1.6K</div>
<div class="t" style="top:406.66px;font-size:16px;right:555.7px;transform-origin:100% 0;transform:scaleX(1.100);">0</div>
<div class="dot t0" style="left:1053.400px;top:408.5px"></div>
<div class="t" style="top:406.66px;font-size:16px;letter-spacing:0.61px;right:460.47px;transform-origin:100% 0;transform:scaleX(1.160);">44</div>
<div class="dot y" style="left:1148.300px;top:408.5px"></div>
<div class="t" style="top:406.66px;font-size:16px;letter-spacing:-0.45px;right:336.7px;transform-origin:100% 0;transform:scaleX(1.091);">0.13</div>
<div class="t" style="top:406.66px;font-size:16px;letter-spacing:0.39px;right:267.76px;transform-origin:100% 0;transform:scaleX(1.110);">0.55</div>
<svg class="abs" style="left:1349.800px;top:407.9px" viewBox="0 0 18 16" width="18" height="16"><path d="M0 .1h18v3.300H0z" fill="#a1a3b0"/><path d="M1.100 3v12.100h6" fill="none" stroke="#a1a3b0" stroke-width="2.200"/><path d="M17 3v2.700" fill="none" stroke="#a1a3b0" stroke-width="2"/><circle cx="12.500" cy="10" r="3.100" fill="none" stroke="#a1a3b0" stroke-width="2"/><path d="M14.800 12.300l2.900 2.900" stroke="#a1a3b0" stroke-width="2.100" fill="none"/></svg>
<div class="abs" style="left:1378.100px;top:403.8px;width:1.600px;height:23.500px;background:#dadde3"></div>
<div class="t" style="top:407.06px;font-size:16px;left:1388.97px;transform:scaleX(1.175);color:#484b56;">7</div>
<div class="dots" style="left:1389.500px;top:427.8px"></div>
<div class="t" style="top:406.66px;font-size:16px;letter-spacing:0.18px;right:71.13px;transform-origin:100% 0;transform:scaleX(1.065);">1 month</div>
<svg class="abs" style="left:1534.300px;top:406.8px" viewBox="0 0 19 19" width="19" height="19"><path d="M14.400 13.700A7.250 7.250 0 1 1 15.700 6.400" fill="none" stroke="#006dca" stroke-width="2.250" stroke-linecap="round"/><path d="M16.200 1.500V6.400H11" fill="none" stroke="#006dca" stroke-width="2.200" stroke-linecap="round" stroke-linejoin="round"/></svg>
<div class="ln" style="top:442px"></div>
<div class="cb" style="left:300.100px;top:458.8px"></div>
<svg class="abs" style="left:337.800px;top:458.9px" viewBox="0 0 20 20" width="20" height="20"><circle cx="9.950" cy="9.950" r="8.250" fill="none" stroke="#9c9eab" stroke-width="2.100"/><path d="M9.950 6.200v7.500M6.200 9.950h7.500" stroke="#9c9eab" stroke-width="1.900" stroke-linecap="round" fill="none"/></svg>
<div class="t" style="top:459.96px;font-size:16px;letter-spacing:0.42px;left:362.32px;transform:scaleX(1.065);color:#006dca;">travel blogs</div>
<svg class="abs" style="left:459.6px;top:461.6px" viewBox="0 0 15 14" width="15" height="14"><rect x="1" y="1" width="13" height="12" rx="1.200" fill="none" stroke="#9c9eab" stroke-width="2.150"/><path d="M1 5.500h13" stroke="#9c9eab" stroke-width="2.100" fill="none"/><path d="M10.700 1v4.500" stroke="#9c9eab" stroke-width="1.100" fill="none"/></svg>
<div class="b1" style="left:483.1px;top:458.1px"></div>
<div class="t" style="top:460.14px;font-size:14.6px;letter-spacing:1.82px;left:493.39px;transform:scaleX(1.002);color:#006dca;-webkit-text-stroke:.6px;">#1</div>
<div class="int I" style="left:670.2px;top:459.1px"></div>
<div class="t" style="top:459.14px;font-size:14.6px;left:677.83px;transform:scaleX(0.896);font-weight:700;-webkit-text-stroke:0;color:#006dca;">I</div>
<div class="int C" style="left:693.2px;top:459.1px"></div>
<div class="t" style="top:459.24px;font-size:14.6px;left:697.91px;transform:scaleX(0.946);font-weight:700;-webkit-text-stroke:0;color:#a35400;">C</div>
<div class="t" style="top:459.96px;font-size:16px;letter-spacing:0.34px;right:744.62px;transform-origin:100% 0;transform:scaleX(1.110);">3,600</div>
<div class="t" style="top:459.96px;font-size:16px;letter-spacing:-0.45px;right:628.2px;transform-origin:100% 0;transform:scaleX(1.023);">1.3K</div>
<div class="t" style="top:459.96px;font-size:16px;right:555.7px;transform-origin:100% 0;transform:scaleX(1.100);">0</div>
<div class="dot t0" style="left:1053.400px;top:461.8px"></div>
<div class="t" style="top:459.96px;font-size:16px;letter-spacing:0.61px;right:460.47px;transform-origin:100% 0;transform:scaleX(1.160);">54</div>
<div class="dot o" style="left:1148.300px;top:461.8px"></div>
<div class="t" style="top:459.96px;font-size:16px;letter-spacing:0.39px;right:335.76px;transform-origin:100% 0;transform:scaleX(1.110);">2.02</div>
<div class="t" style="top:459.96px;font-size:16px;letter-spacing:0.47px;right:267.68px;transform-origin:100% 0;transform:scaleX(1.110);">0.04</div>
<svg class="abs" style="left:1349.800px;top:461.2px" viewBox="0 0 18 16" width="18" height="16"><path d="M0 .1h18v3.300H0z" fill="#a1a3b0"/><path d="M1.100 3v12.100h6" fill="none" stroke="#a1a3b0" stroke-width="2.200"/><path d="M17 3v2.700" fill="none" stroke="#a1a3b0" stroke-width="2"/><circle cx="12.500" cy="10" r="3.100" fill="none" stroke="#a1a3b0" stroke-width="2"/><path d="M14.800 12.300l2.900 2.900" stroke="#a1a3b0" stroke-width="2.100" fill="none"/></svg>
<div class="abs" style="left:1378.100px;top:457.1px;width:1.600px;height:23.500px;background:#dadde3"></div>
<div class="t" style="top:460.36px;font-size:16px;left:1388.97px;transform:scaleX(1.175);color:#484b56;">6</div>
<div class="dots" style="left:1389.500px;top:481.1px"></div>
<div class="t" style="top:459.96px;font-size:16px;letter-spacing:0.18px;right:71.13px;transform-origin:100% 0;transform:scaleX(1.065);">1 month</div>
<svg class="abs" style="left:1534.300px;top:460.1px" viewBox="0 0 19 19" width="19" height="19"><path d="M14.400 13.700A7.250 7.250 0 1 1 15.700 6.400" fill="none" stroke="#006dca" stroke-width="2.250" stroke-linecap="round"/><path d="M16.200 1.500V6.400H11" fill="none" stroke="#006dca" stroke-width="2.200" stroke-linecap="round" stroke-linejoin="round"/></svg>
<div class="ln" style="top:495px"></div>
<div class="cb" style="left:300.100px;top:512.1px"></div>
<svg class="abs" style="left:337.800px;top:512.2px" viewBox="0 0 20 20" width="20" height="20"><circle cx="9.950" cy="9.950" r="8.250" fill="none" stroke="#9c9eab" stroke-width="2.100"/><path d="M9.950 6.200v7.500M6.200 9.950h7.500" stroke="#9c9eab" stroke-width="1.900" stroke-linecap="round" fill="none"/></svg>
<div class="t" style="top:513.26px;font-size:16px;letter-spacing:0.29px;left:362.32px;transform:scaleX(1.065);color:#006dca;">places to travel in usa</div>
<svg class="abs" style="left:539.1px;top:514.9px" viewBox="0 0 15 14" width="15" height="14"><rect x="1" y="1" width="13" height="12" rx="1.200" fill="none" stroke="#9c9eab" stroke-width="2.150"/><path d="M1 5.500h13" stroke="#9c9eab" stroke-width="2.100" fill="none"/><path d="M10.700 1v4.500" stroke="#9c9eab" stroke-width="1.100" fill="none"/></svg>
<div class="b1" style="left:562.6px;top:511.4px"></div>
<div class="t" style="top:513.44px;font-size:14.6px;letter-spacing:1.82px;left:572.89px;transform:scaleX(1.002);color:#006dca;-webkit-text-stroke:.6px;">#1</div>
<div class="int I" style="left:670.2px;top:512.4px"></div>
<div class="t" style="top:512.44px;font-size:14.6px;left:677.83px;transform:scaleX(0.896);font-weight:700;-webkit-text-stroke:0;color:#006dca;">I</div>
<div class="t" style="top:513.26px;font-size:16px;letter-spacing:0.34px;right:744.62px;transform-origin:100% 0;transform:scaleX(1.110);">2,900</div>
<div class="t" style="top:513.26px;font-size:16px;letter-spacing:-0.45px;right:628.2px;transform-origin:100% 0;transform:scaleX(0.911);">1.1K</div>
<div class="t" style="top:513.26px;font-size:16px;right:555.7px;transform-origin:100% 0;transform:scaleX(1.100);">0</div>
<div class="dot t0" style="left:1053.400px;top:515.1px"></div>
<div class="t" style="top:513.26px;font-size:16px;letter-spacing:0.61px;right:460.47px;transform-origin:100% 0;transform:scaleX(1.160);">47</div>
<div class="dot y" style="left:1148.300px;top:515.1px"></div>
<div class="t" style="top:513.26px;font-size:16px;letter-spacing:-0.45px;right:336.7px;transform-origin:100% 0;transform:scaleX(1.091);">0.13</div>
<div class="t" style="top:513.26px;font-size:16px;letter-spacing:0.39px;right:267.76px;transform-origin:100% 0;transform:scaleX(1.110);">0.55</div>
<svg class="abs" style="left:1349.800px;top:514.5px" viewBox="0 0 18 16" width="18" height="16"><path d="M0 .1h18v3.300H0z" fill="#a1a3b0"/><path d="M1.100 3v12.100h6" fill="none" stroke="#a1a3b0" stroke-width="2.200"/><path d="M17 3v2.700" fill="none" stroke="#a1a3b0" stroke-width="2"/><circle cx="12.500" cy="10" r="3.100" fill="none" stroke="#a1a3b0" stroke-width="2"/><path d="M14.800 12.300l2.900 2.900" stroke="#a1a3b0" stroke-width="2.100" fill="none"/></svg>
<div class="abs" style="left:1378.100px;top:510.4px;width:1.600px;height:23.500px;background:#dadde3"></div>
<div class="t" style="top:513.66px;font-size:16px;left:1388.97px;transform:scaleX(1.175);color:#484b56;">7</div>
<div class="dots" style="left:1389.500px;top:534.4px"></div>
<div class="t" style="top:513.26px;font-size:16px;letter-spacing:0.18px;right:71.13px;transform-origin:100% 0;transform:scaleX(1.065);">1 month</div>
<svg class="abs" style="left:1534.300px;top:513.4px" viewBox="0 0 19 19" width="19" height="19"><path d="M14.400 13.700A7.250 7.250 0 1 1 15.700 6.400" fill="none" stroke="#006dca" stroke-width="2.250" stroke-linecap="round"/><path d="M16.200 1.500V6.400H11" fill="none" stroke="#006dca" stroke-width="2.200" stroke-linecap="round" stroke-linejoin="round"/></svg>
<div class="ln" style="top:548px"></div>
<div class="cb" style="left:300.100px;top:565.4px"></div>
<svg class="abs" style="left:337.800px;top:565.5px" viewBox="0 0 20 20" width="20" height="20"><circle cx="9.950" cy="9.950" r="8.250" fill="none" stroke="#9c9eab" stroke-width="2.100"/><path d="M9.950 6.200v7.500M6.200 9.950h7.500" stroke="#9c9eab" stroke-width="1.900" stroke-linecap="round" fill="none"/></svg>
<div class="t" style="top:566.56px;font-size:16px;letter-spacing:0.32px;left:362.32px;transform:scaleX(1.065);color:#006dca;">best places to travel in the</div>
<div class="t" style="top:590.56px;font-size:16px;letter-spacing:1.41px;left:362.32px;transform:scaleX(1.065);color:#006dca;">us</div>
<svg class="abs" style="left:387.1px;top:592.2px" viewBox="0 0 15 14" width="15" height="14"><rect x="1" y="1" width="13" height="12" rx="1.200" fill="none" stroke="#9c9eab" stroke-width="2.150"/><path d="M1 5.500h13" stroke="#9c9eab" stroke-width="2.100" fill="none"/><path d="M10.700 1v4.500" stroke="#9c9eab" stroke-width="1.100" fill="none"/></svg>
<div class="b1" style="left:410.6px;top:588.7px"></div>
<div class="t" style="top:590.74px;font-size:14.6px;letter-spacing:1.82px;left:420.89px;transform:scaleX(1.002);color:#006dca;-webkit-text-stroke:.6px;">#1</div>
<div class="int C" style="left:670.2px;top:565.7px"></div>
<div class="t" style="top:565.84px;font-size:14.6px;left:674.91px;transform:scaleX(0.946);font-weight:700;-webkit-text-stroke:0;color:#a35400;">C</div>
<div class="t" style="top:566.56px;font-size:16px;letter-spacing:0.34px;right:744.62px;transform-origin:100% 0;transform:scaleX(1.110);">2,900</div>
<div class="t" style="top:566.56px;font-size:16px;letter-spacing:-0.45px;right:628.2px;transform-origin:100% 0;transform:scaleX(0.911);">1.1K</div>
<div class="t" style="top:566.56px;font-size:16px;right:555.7px;transform-origin:100% 0;transform:scaleX(1.100);">0</div>
<div class="dot t0" style="left:1053.400px;top:568.4px"></div>
<div class="t" style="top:566.56px;font-size:16px;letter-spacing:-0.45px;right:461.7px;transform-origin:100% 0;transform:scaleX(1.026);">31</div>
<div class="dot y" style="left:1148.300px;top:568.4px"></div>
<div class="t" style="top:566.56px;font-size:16px;letter-spacing:0.47px;right:335.68px;transform-origin:100% 0;transform:scaleX(1.110);">0.06</div>
<div class="t" style="top:566.56px;font-size:16px;letter-spacing:0.39px;right:267.76px;transform-origin:100% 0;transform:scaleX(1.110);">0.48</div>
<svg class="abs" style="left:1349.800px;top:567.8px" viewBox="0 0 18 16" width="18" height="16"><path d="M0 .1h18v3.300H0z" fill="#a1a3b0"/><path d="M1.100 3v12.100h6" fill="none" stroke="#a1a3b0" stroke-width="2.200"/><path d="M17 3v2.700" fill="none" stroke="#a1a3b0" stroke-width="2"/><circle cx="12.500" cy="10" r="3.100" fill="none" stroke="#a1a3b0" stroke-width="2"/><path d="M14.800 12.300l2.900 2.900" stroke="#a1a3b0" stroke-width="2.100" fill="none"/></svg>
<div class="abs" style="left:1378.100px;top:563.7px;width:1.600px;height:23.500px;background:#dadde3"></div>
<div class="t" style="top:566.96px;font-size:16px;left:1388.97px;transform:scaleX(1.175);color:#484b56;">6</div>
<div class="dots" style="left:1389.500px;top:587.7px"></div>
<div class="t" style="top:566.56px;font-size:16px;letter-spacing:0.18px;right:71.13px;transform-origin:100% 0;transform:scaleX(1.065);">1 month</div>
<svg class="abs" style="left:1534.300px;top:566.7px" viewBox="0 0 19 19" width="19" height="19"><path d="M14.400 13.700A7.250 7.250 0 1 1 15.700 6.400" fill="none" stroke="#006dca" stroke-width="2.250" stroke-linecap="round"/><path d="M16.200 1.500V6.400H11" fill="none" stroke="#006dca" stroke-width="2.200" stroke-linecap="round" stroke-linejoin="round"/></svg>
<div class="ln" style="top:626px"></div>
<div class="cb" style="left:300.100px;top:642.7px"></div>
<svg class="abs" style="left:337.800px;top:642.8px" viewBox="0 0 20 20" width="20" height="20"><circle cx="9.950" cy="9.950" r="8.250" fill="none" stroke="#9c9eab" stroke-width="2.100"/><path d="M9.950 6.200v7.500M6.200 9.950h7.500" stroke="#9c9eab" stroke-width="1.900" stroke-linecap="round" fill="none"/></svg>
<div class="t" style="top:643.86px;font-size:16px;letter-spacing:0.33px;left:362.32px;transform:scaleX(1.065);color:#006dca;">united states best places to</div>
<div class="t" style="top:667.86px;font-size:16px;letter-spacing:0.49px;left:362.32px;transform:scaleX(1.065);color:#006dca;">travel</div>
<svg class="abs" style="left:411.9px;top:669.5px" viewBox="0 0 15 14" width="15" height="14"><rect x="1" y="1" width="13" height="12" rx="1.200" fill="none" stroke="#9c9eab" stroke-width="2.150"/><path d="M1 5.500h13" stroke="#9c9eab" stroke-width="2.100" fill="none"/><path d="M10.700 1v4.500" stroke="#9c9eab" stroke-width="1.100" fill="none"/></svg>
<div class="b1" style="left:435.4px;top:666px"></div>
<div class="t" style="top:668.04px;font-size:14.6px;letter-spacing:1.82px;left:445.69px;transform:scaleX(1.002);color:#006dca;-webkit-text-stroke:.6px;">#1</div>
<div class="int C" style="left:670.2px;top:643px"></div>
<div class="t" style="top:643.14px;font-size:14.6px;left:674.91px;transform:scaleX(0.946);font-weight:700;-webkit-text-stroke:0;color:#a35400;">C</div>
<div class="t" style="top:643.86px;font-size:16px;letter-spacing:0.34px;right:744.62px;transform-origin:100% 0;transform:scaleX(1.110);">2,400</div>
<div class="t" style="top:643.86px;font-size:16px;letter-spacing:0.67px;right:626.05px;transform-origin:100% 0;transform:scaleX(1.110);">879</div>
<div class="t" style="top:643.86px;font-size:16px;right:555.7px;transform-origin:100% 0;transform:scaleX(1.100);">0</div>
<div class="dot t0" style="left:1053.400px;top:645.7px"></div>
<div class="t" style="top:643.86px;font-size:16px;letter-spacing:0.61px;right:460.47px;transform-origin:100% 0;transform:scaleX(1.160);">29</div>
<div class="dot g" style="left:1148.300px;top:645.7px"></div>
<div class="t" style="top:643.86px;font-size:16px;letter-spacing:0.47px;right:335.68px;transform-origin:100% 0;transform:scaleX(1.110);">0.04</div>
<div class="t" style="top:643.86px;font-size:16px;letter-spacing:0.39px;right:267.76px;transform-origin:100% 0;transform:scaleX(1.110);">0.55</div>
<svg class="abs" style="left:1349.800px;top:645.1px" viewBox="0 0 18 16" width="18" height="16"><path d="M0 .1h18v3.300H0z" fill="#a1a3b0"/><path d="M1.100 3v12.100h6" fill="none" stroke="#a1a3b0" stroke-width="2.200"/><path d="M17 3v2.700" fill="none" stroke="#a1a3b0" stroke-width="2"/><circle cx="12.500" cy="10" r="3.100" fill="none" stroke="#a1a3b0" stroke-width="2"/><path d="M14.800 12.300l2.900 2.900" stroke="#a1a3b0" stroke-width="2.100" fill="none"/></svg>
<div class="abs" style="left:1378.100px;top:641px;width:1.600px;height:23.500px;background:#dadde3"></div>
<div class="t" style="top:644.26px;font-size:16px;left:1388.97px;transform:scaleX(1.175);color:#484b56;">6</div>
<div class="dots" style="left:1389.500px;top:665px"></div>
<div class="t" style="top:643.86px;font-size:16px;letter-spacing:0.18px;right:71.13px;transform-origin:100% 0;transform:scaleX(1.065);">1 month</div>
<svg class="abs" style="left:1534.300px;top:644px" viewBox="0 0 19 19" width="19" height="19"><path d="M14.400 13.700A7.250 7.250 0 1 1 15.700 6.400" fill="none" stroke="#006dca" stroke-width="2.250" stroke-linecap="round"/><path d="M16.200 1.500V6.400H11" fill="none" stroke="#006dca" stroke-width="2.200" stroke-linecap="round" stroke-linejoin="round"/></svg>
<div class="ln" style="top:703px"></div>
<div class="cb" style="left:300.100px;top:720px"></div>
<svg class="abs" style="left:337.800px;top:720.1px" viewBox="0 0 20 20" width="20" height="20"><circle cx="9.950" cy="9.950" r="8.250" fill="none" stroke="#9c9eab" stroke-width="2.100"/><path d="M9.950 6.200v7.500M6.200 9.950h7.500" stroke="#9c9eab" stroke-width="1.900" stroke-linecap="round" fill="none"/></svg>
<div class="t" style="top:721.16px;font-size:16px;letter-spacing:0.29px;left:362.32px;transform:scaleX(1.065);color:#006dca;">places to travel to in the us</div>
<svg class="abs" style="left:579px;top:722.8px" viewBox="0 0 15 14" width="15" height="14"><rect x="1" y="1" width="13" height="12" rx="1.200" fill="none" stroke="#9c9eab" stroke-width="2.150"/><path d="M1 5.500h13" stroke="#9c9eab" stroke-width="2.100" fill="none"/><path d="M10.700 1v4.500" stroke="#9c9eab" stroke-width="1.100" fill="none"/></svg>
<div class="b1" style="left:602.5px;top:719.3px"></div>
<div class="t" style="top:721.34px;font-size:14.6px;letter-spacing:1.82px;left:612.79px;transform:scaleX(1.002);color:#006dca;-webkit-text-stroke:.6px;">#1</div>
<div class="t" style="top:721.36px;font-size:16px;letter-spacing:0.17px;left:670.4px;transform:scaleX(1.110);color:#61646f;">n/a</div>
<div class="t" style="top:721.16px;font-size:16px;letter-spacing:-0.41px;right:745.46px;transform-origin:100% 0;transform:scaleX(1.110);">1,900</div>
<div class="t" style="top:721.16px;font-size:16px;letter-spacing:0.67px;right:626.05px;transform-origin:100% 0;transform:scaleX(1.110);">696</div>
<div class="t" style="top:721.16px;font-size:16px;right:555.7px;transform-origin:100% 0;transform:scaleX(1.100);">0</div>
<div class="dot t0" style="left:1053.400px;top:723px"></div>
<div class="t" style="top:721.16px;font-size:16px;letter-spacing:0.61px;right:460.47px;transform-origin:100% 0;transform:scaleX(1.160);">38</div>
<div class="dot y" style="left:1148.300px;top:723px"></div>
<div class="t" style="top:721.16px;font-size:16px;letter-spacing:-0.45px;right:336.7px;transform-origin:100% 0;transform:scaleX(1.091);">0.21</div>
<div class="t" style="top:721.16px;font-size:16px;letter-spacing:-0.45px;right:268.7px;transform-origin:100% 0;transform:scaleX(1.100);">0.01</div>
<svg class="abs" style="left:1349.800px;top:722.4px" viewBox="0 0 18 16" width="18" height="16"><path d="M0 .1h18v3.300H0z" fill="#a1a3b0"/><path d="M1.100 3v12.100h6" fill="none" stroke="#a1a3b0" stroke-width="2.200"/><path d="M17 3v2.700" fill="none" stroke="#a1a3b0" stroke-width="2"/><circle cx="12.500" cy="10" r="3.100" fill="none" stroke="#a1a3b0" stroke-width="2"/><path d="M14.800 12.300l2.900 2.900" stroke="#a1a3b0" stroke-width="2.100" fill="none"/></svg>
<div class="abs" style="left:1378.100px;top:718.3px;width:1.600px;height:23.500px;background:#dadde3"></div>
<div class="t" style="top:721.56px;font-size:16px;left:1388.97px;transform:scaleX(1.175);color:#484b56;">5</div>
<div class="dots" style="left:1389.500px;top:742.3px"></div>
<div class="t" style="top:721.16px;font-size:16px;letter-spacing:0.18px;right:71.13px;transform-origin:100% 0;transform:scaleX(1.065);">1 month</div>
<svg class="abs" style="left:1534.300px;top:721.3px" viewBox="0 0 19 19" width="19" height="19"><path d="M14.400 13.700A7.250 7.250 0 1 1 15.700 6.400" fill="none" stroke="#006dca" stroke-width="2.250" stroke-linecap="round"/><path d="M16.200 1.500V6.400H11" fill="none" stroke="#006dca" stroke-width="2.200" stroke-linecap="round" stroke-linejoin="round"/></svg>
<div class="ln" style="top:756px"></div>
<div class="cb" style="left:300.100px;top:773.3px"></div>
<svg class="abs" style="left:337.800px;top:773.4px" viewBox="0 0 20 20" width="20" height="20"><circle cx="9.950" cy="9.950" r="8.250" fill="none" stroke="#9c9eab" stroke-width="2.100"/><path d="M9.950 6.200v7.500M6.200 9.950h7.500" stroke="#9c9eab" stroke-width="1.900" stroke-linecap="round" fill="none"/></svg>
<div class="t" style="top:774.46px;font-size:16px;letter-spacing:0.32px;left:362.32px;transform:scaleX(1.065);color:#006dca;">best places to travel in</div>
<div class="t" style="top:798.46px;font-size:16px;letter-spacing:0.48px;left:362.32px;transform:scaleX(1.065);color:#006dca;">america</div>
<svg class="abs" style="left:431.3px;top:800.1px" viewBox="0 0 15 14" width="15" height="14"><rect x="1" y="1" width="13" height="12" rx="1.200" fill="none" stroke="#9c9eab" stroke-width="2.150"/><path d="M1 5.500h13" stroke="#9c9eab" stroke-width="2.100" fill="none"/><path d="M10.700 1v4.500" stroke="#9c9eab" stroke-width="1.100" fill="none"/></svg>
<div class="b1" style="left:454.8px;top:796.6px"></div>
<div class="t" style="top:798.64px;font-size:14.6px;letter-spacing:1.82px;left:465.09px;transform:scaleX(1.002);color:#006dca;-webkit-text-stroke:.6px;">#1</div>
<div class="int C" style="left:670.2px;top:773.6px"></div>
<div class="t" style="top:773.74px;font-size:14.6px;left:674.91px;transform:scaleX(0.946);font-weight:700;-webkit-text-stroke:0;color:#a35400;">C</div>
<div class="t" style="top:774.46px;font-size:16px;letter-spacing:-0.41px;right:745.46px;transform-origin:100% 0;transform:scaleX(1.110);">1,600</div>
<div class="t" style="top:774.46px;font-size:16px;letter-spacing:0.67px;right:626.05px;transform-origin:100% 0;transform:scaleX(1.110);">586</div>
<div class="t" style="top:774.46px;font-size:16px;right:555.7px;transform-origin:100% 0;transform:scaleX(1.100);">0</div>
<div class="dot t0" style="left:1053.400px;top:776.3px"></div>
<div class="t" style="top:774.46px;font-size:16px;letter-spacing:-0.45px;right:461.7px;transform-origin:100% 0;transform:scaleX(1.026);">31</div>
<div class="dot y" style="left:1148.300px;top:776.3px"></div>
<div class="t" style="top:774.46px;font-size:16px;letter-spacing:0.47px;right:335.68px;transform-origin:100% 0;transform:scaleX(1.110);">0.06</div>
<div class="t" style="top:774.46px;font-size:16px;letter-spacing:0.39px;right:267.76px;transform-origin:100% 0;transform:scaleX(1.110);">0.48</div>
<svg class="abs" style="left:1349.800px;top:775.7px" viewBox="0 0 18 16" width="18" height="16"><path d="M0 .1h18v3.300H0z" fill="#a1a3b0"/><path d="M1.100 3v12.100h6" fill="none" stroke="#a1a3b0" stroke-width="2.200"/><path d="M17 3v2.700" fill="none" stroke="#a1a3b0" stroke-width="2"/><circle cx="12.500" cy="10" r="3.100" fill="none" stroke="#a1a3b0" stroke-width="2"/><path d="M14.800 12.300l2.900 2.900" stroke="#a1a3b0" stroke-width="2.100" fill="none"/></svg>
<div class="abs" style="left:1378.100px;top:771.6px;width:1.600px;height:23.500px;background:#dadde3"></div>
<div class="t" style="top:774.86px;font-size:16px;left:1388.97px;transform:scaleX(1.175);color:#484b56;">6</div>
<div class="dots" style="left:1389.500px;top:795.6px"></div>
<div class="t" style="top:774.46px;font-size:16px;letter-spacing:0.18px;right:71.13px;transform-origin:100% 0;transform:scaleX(1.065);">1 month</div>
<svg class="abs" style="left:1534.300px;top:774.6px" viewBox="0 0 19 19" width="19" height="19"><path d="M14.400 13.700A7.250 7.250 0 1 1 15.700 6.400" fill="none" stroke="#006dca" stroke-width="2.250" stroke-linecap="round"/><path d="M16.200 1.500V6.400H11" fill="none" stroke="#006dca" stroke-width="2.200" stroke-linecap="round" stroke-linejoin="round"/></svg>
<div class="ln" style="top:833px"></div>
<div class="cb" style="left:300.100px;top:850.6px"></div>
<svg class="abs" style="left:337.800px;top:850.7px" viewBox="0 0 20 20" width="20" height="20"><circle cx="9.950" cy="9.950" r="8.250" fill="none" stroke="#9c9eab" stroke-width="2.100"/><path d="M9.950 6.200v7.500M6.200 9.950h7.500" stroke="#9c9eab" stroke-width="1.900" stroke-linecap="round" fill="none"/></svg>
<div class="t" style="top:851.76px;font-size:16px;letter-spacing:0.28px;left:362.32px;transform:scaleX(1.065);color:#006dca;">best places to travel in usa</div>
<svg class="abs" style="left:577.4px;top:853.4px" viewBox="0 0 15 14" width="15" height="14"><rect x="1" y="1" width="13" height="12" rx="1.200" fill="none" stroke="#9c9eab" stroke-width="2.150"/><path d="M1 5.500h13" stroke="#9c9eab" stroke-width="2.100" fill="none"/><path d="M10.700 1v4.500" stroke="#9c9eab" stroke-width="1.100" fill="none"/></svg>
<div class="b1" style="left:600.9px;top:849.9px"></div>
<div class="t" style="top:851.94px;font-size:14.6px;letter-spacing:1.82px;left:611.19px;transform:scaleX(1.002);color:#006dca;-webkit-text-stroke:.6px;">#1</div>
<div class="int C" style="left:670.2px;top:850.9px"></div>
<div class="t" style="top:851.04px;font-size:14.6px;left:674.91px;transform:scaleX(0.946);font-weight:700;-webkit-text-stroke:0;color:#a35400;">C</div>
<div class="t" style="top:851.76px;font-size:16px;letter-spacing:-0.41px;right:745.46px;transform-origin:100% 0;transform:scaleX(1.110);">1,600</div>
<div class="t" style="top:851.76px;font-size:16px;letter-spacing:0.67px;right:626.05px;transform-origin:100% 0;transform:scaleX(1.110);">586</div>
<div class="t" style="top:851.76px;font-size:16px;right:555.7px;transform-origin:100% 0;transform:scaleX(1.100);">0</div>
<div class="dot t0" style="left:1053.400px;top:853.6px"></div>
<div class="t" style="top:851.76px;font-size:16px;letter-spacing:0.61px;right:460.47px;transform-origin:100% 0;transform:scaleX(1.160);">33</div>
<div class="dot y" style="left:1148.300px;top:853.6px"></div>
<div class="t" style="top:851.76px;font-size:16px;letter-spacing:0.47px;right:335.68px;transform-origin:100% 0;transform:scaleX(1.110);">0.06</div>
<div class="t" style="top:851.76px;font-size:16px;letter-spacing:0.39px;right:267.76px;transform-origin:100% 0;transform:scaleX(1.110);">0.48</div>
<svg class="abs" style="left:1349.800px;top:853px" viewBox="0 0 18 16" width="18" height="16"><path d="M0 .1h18v3.300H0z" fill="#a1a3b0"/><path d="M1.100 3v12.100h6" fill="none" stroke="#a1a3b0" stroke-width="2.200"/><path d="M17 3v2.700" fill="none" stroke="#a1a3b0" stroke-width="2"/><circle cx="12.500" cy="10" r="3.100" fill="none" stroke="#a1a3b0" stroke-width="2"/><path d="M14.800 12.300l2.900 2.900" stroke="#a1a3b0" stroke-width="2.100" fill="none"/></svg>
<div class="abs" style="left:1378.100px;top:848.9px;width:1.600px;height:23.500px;background:#dadde3"></div>
<div class="t" style="top:852.16px;font-size:16px;left:1388.97px;transform:scaleX(1.175);color:#484b56;">5</div>
<div class="dots" style="left:1389.500px;top:872.9px"></div>
<div class="t" style="top:851.76px;font-size:16px;letter-spacing:0.18px;right:71.13px;transform-origin:100% 0;transform:scaleX(1.065);">1 month</div>
<svg class="abs" style="left:1534.300px;top:851.9px" viewBox="0 0 19 19" width="19" height="19"><path d="M14.400 13.700A7.250 7.250 0 1 1 15.700 6.400" fill="none" stroke="#006dca" stroke-width="2.250" stroke-linecap="round"/><path d="M16.200 1.500V6.400H11" fill="none" stroke="#006dca" stroke-width="2.200" stroke-linecap="round" stroke-linejoin="round"/></svg>
<div class="ln" style="top:887px"></div>
<div class="cb" style="left:300.100px;top:903.9px"></div>
<svg class="abs" style="left:337.800px;top:904px" viewBox="0 0 20 20" width="20" height="20"><circle cx="9.950" cy="9.950" r="8.250" fill="none" stroke="#9c9eab" stroke-width="2.100"/><path d="M9.950 6.200v7.500M6.200 9.950h7.500" stroke="#9c9eab" stroke-width="1.900" stroke-linecap="round" fill="none"/></svg>
<div class="t" style="top:905.06px;font-size:16px;letter-spacing:0.3px;left:362.32px;transform:scaleX(1.065);color:#006dca;">travel destinations usa</div>
<svg class="abs" style="left:544.1px;top:906.7px" viewBox="0 0 15 14" width="15" height="14"><rect x="1" y="1" width="13" height="12" rx="1.200" fill="none" stroke="#9c9eab" stroke-width="2.150"/><path d="M1 5.500h13" stroke="#9c9eab" stroke-width="2.100" fill="none"/><path d="M10.700 1v4.500" stroke="#9c9eab" stroke-width="1.100" fill="none"/></svg>
<div class="b1" style="left:567.6px;top:903.2px"></div>
<div class="t" style="top:905.24px;font-size:14.6px;letter-spacing:1.82px;left:577.89px;transform:scaleX(1.002);color:#006dca;-webkit-text-stroke:.6px;">#1</div>
<div class="int I" style="left:670.2px;top:904.2px"></div>
<div class="t" style="top:904.24px;font-size:14.6px;left:677.83px;transform:scaleX(0.896);font-weight:700;-webkit-text-stroke:0;color:#006dca;">I</div>
<div class="t" style="top:905.06px;font-size:16px;letter-spacing:-0.41px;right:745.46px;transform-origin:100% 0;transform:scaleX(1.110);">1,600</div>
<div class="t" style="top:905.06px;font-size:16px;letter-spacing:0.67px;right:626.05px;transform-origin:100% 0;transform:scaleX(1.110);">586</div>
<div class="t" style="top:905.06px;font-size:16px;right:555.7px;transform-origin:100% 0;transform:scaleX(1.100);">0</div>
<div class="dot t0" style="left:1053.400px;top:906.9px"></div>
<div class="t" style="top:905.06px;font-size:16px;letter-spacing:0.61px;right:460.47px;transform-origin:100% 0;transform:scaleX(1.160);">66</div>
<div class="dot o" style="left:1148.300px;top:906.9px"></div>
<div class="t" style="top:905.06px;font-size:16px;letter-spacing:-0.45px;right:336.7px;transform-origin:100% 0;transform:scaleX(1.091);">0.21</div>
<div class="t" style="top:905.06px;font-size:16px;letter-spacing:-0.45px;right:268.7px;transform-origin:100% 0;transform:scaleX(1.100);">0.01</div>
<svg class="abs" style="left:1349.800px;top:906.3px" viewBox="0 0 18 16" width="18" height="16"><path d="M0 .1h18v3.300H0z" fill="#a1a3b0"/><path d="M1.100 3v12.100h6" fill="none" stroke="#a1a3b0" stroke-width="2.200"/><path d="M17 3v2.700" fill="none" stroke="#a1a3b0" stroke-width="2"/><circle cx="12.500" cy="10" r="3.100" fill="none" stroke="#a1a3b0" stroke-width="2"/><path d="M14.800 12.300l2.900 2.900" stroke="#a1a3b0" stroke-width="2.100" fill="none"/></svg>
<div class="abs" style="left:1378.100px;top:902.2px;width:1.600px;height:23.500px;background:#dadde3"></div>
<div class="t" style="top:905.46px;font-size:16px;left:1388.97px;transform:scaleX(1.175);color:#484b56;">7</div>
<div class="dots" style="left:1389.500px;top:926.2px"></div>
<div class="t" style="top:905.06px;font-size:16px;letter-spacing:0.18px;right:71.13px;transform-origin:100% 0;transform:scaleX(1.065);">1 month</div>
<svg class="abs" style="left:1534.300px;top:905.2px" viewBox="0 0 19 19" width="19" height="19"><path d="M14.400 13.700A7.250 7.250 0 1 1 15.700 6.400" fill="none" stroke="#006dca" stroke-width="2.250" stroke-linecap="round"/><path d="M16.200 1.500V6.400H11" fill="none" stroke="#006dca" stroke-width="2.200" stroke-linecap="round" stroke-linejoin="round"/></svg>
<div class="ln" style="top:940px"></div>
<div class="cb" style="left:300.100px;top:957.2px"></div>
<svg class="abs" style="left:337.800px;top:957.3px" viewBox="0 0 20 20" width="20" height="20"><circle cx="9.950" cy="9.950" r="8.250" fill="none" stroke="#9c9eab" stroke-width="2.100"/><path d="M9.950 6.200v7.500M6.200 9.950h7.500" stroke="#9c9eab" stroke-width="1.900" stroke-linecap="round" fill="none"/></svg>
<div class="t" style="top:958.36px;font-size:16px;letter-spacing:0.33px;left:362.32px;transform:scaleX(1.065);color:#006dca;">cool places to travel in the</div>
<div class="t" style="top:982.36px;font-size:16px;letter-spacing:1.41px;left:362.32px;transform:scaleX(1.065);color:#006dca;">us</div>
<svg class="abs" style="left:387.1px;top:984px" viewBox="0 0 15 14" width="15" height="14"><rect x="1" y="1" width="13" height="12" rx="1.200" fill="none" stroke="#9c9eab" stroke-width="2.150"/><path d="M1 5.500h13" stroke="#9c9eab" stroke-width="2.100" fill="none"/><path d="M10.700 1v4.500" stroke="#9c9eab" stroke-width="1.100" fill="none"/></svg>
<div class="b1" style="left:410.6px;top:980.5px"></div>
<div class="t" style="top:982.54px;font-size:14.6px;letter-spacing:1.82px;left:420.89px;transform:scaleX(1.002);color:#006dca;-webkit-text-stroke:.6px;">#1</div>
<div class="int I" style="left:670.2px;top:957.5px"></div>
<div class="t" style="top:957.54px;font-size:14.6px;left:677.83px;transform:scaleX(0.896);font-weight:700;-webkit-text-stroke:0;color:#006dca;">I</div>
<div class="t" style="top:958.36px;font-size:16px;letter-spacing:-0.41px;right:745.46px;transform-origin:100% 0;transform:scaleX(1.110);">1,600</div>
<div class="t" style="top:958.36px;font-size:16px;letter-spacing:0.67px;right:626.05px;transform-origin:100% 0;transform:scaleX(1.110);">585</div>
<div class="t" style="top:958.36px;font-size:16px;right:555.7px;transform-origin:100% 0;transform:scaleX(1.100);">0</div>
<div class="dot t0" style="left:1053.400px;top:960.2px"></div>
<div class="t" style="top:958.36px;font-size:16px;letter-spacing:0.61px;right:460.47px;transform-origin:100% 0;transform:scaleX(1.160);">35</div>
<div class="dot y" style="left:1148.300px;top:960.2px"></div>
<div class="t" style="top:958.36px;font-size:16px;letter-spacing:0.47px;right:335.68px;transform-origin:100% 0;transform:scaleX(1.110);">0.06</div>
<div class="t" style="top:958.36px;font-size:16px;letter-spacing:0.39px;right:267.76px;transform-origin:100% 0;transform:scaleX(1.110);">0.48</div>
<svg class="abs" style="left:1349.800px;top:959.6px" viewBox="0 0 18 16" width="18" height="16"><path d="M0 .1h18v3.300H0z" fill="#a1a3b0"/><path d="M1.100 3v12.100h6" fill="none" stroke="#a1a3b0" stroke-width="2.200"/><path d="M17 3v2.700" fill="none" stroke="#a1a3b0" stroke-width="2"/><circle cx="12.500" cy="10" r="3.100" fill="none" stroke="#a1a3b0" stroke-width="2"/><path d="M14.800 12.300l2.900 2.900" stroke="#a1a3b0" stroke-width="2.100" fill="none"/></svg>
<div class="abs" style="left:1378.100px;top:955.5px;width:1.600px;height:23.500px;background:#dadde3"></div>
<div class="t" style="top:958.76px;font-size:16px;left:1388.97px;transform:scaleX(1.175);color:#484b56;">7</div>
<div class="dots" style="left:1389.500px;top:979.5px"></div>
<div class="t" style="top:958.36px;font-size:16px;letter-spacing:0.18px;right:71.13px;transform-origin:100% 0;transform:scaleX(1.065);">1 month</div>
<svg class="abs" style="left:1534.300px;top:958.5px" viewBox="0 0 19 19" width="19" height="19"><path d="M14.400 13.700A7.250 7.250 0 1 1 15.700 6.400" fill="none" stroke="#006dca" stroke-width="2.250" stroke-linecap="round"/><path d="M16.200 1.500V6.400H11" fill="none" stroke="#006dca" stroke-width="2.200" stroke-linecap="round" stroke-linejoin="round"/></svg>
<div class="abs" style="left:871.700px;top:222px;width:107px;height:60px;background:#ecdcfb"></div>
<div class="abs" style="left:863.700px;top:214px;width:123.100px;height:790px;border:8px solid #b27cfb;border-bottom:0;border-radius:2px 2px 0 0"></div>
<svg class="abs" style="left:874.2px;top:232.1px" viewBox="0 0 17 17" width="17" height="17"><path d="M6.1 4.7C6.77 8.24 8.54 9.95 12.2 10.6C8.54 11.25 6.77 12.96 6.1 16.5C5.43 12.96 3.66 11.25 0 10.6C3.66 9.95 5.43 8.24 6.1 4.7zM13.3 0.05C13.7 2.24 14.74 3.3 16.9 3.7C14.74 4.1 13.7 5.16 13.3 7.35C12.9 5.16 11.86 4.1 9.7 3.7C11.86 3.3 12.9 2.24 13.3 0.05z" fill="#7338e0"/></svg>
<div class="t" style="top:230.02px;font-size:14.67px;letter-spacing:0.29px;right:650px;transform-origin:100% 0;transform:scaleX(1.002);">Pot.</div>
<div class="t" style="top:248.72px;font-size:14.67px;letter-spacing:0.52px;right:649.77px;transform-origin:100% 0;transform:scaleX(1.002);">Traffic</div>
<svg class="abs" style="left:956.500px;top:233.700px" width="15" height="13" viewBox="0 0 15 13"><path d="M1.200 1.500h12.600M1.200 6.500h8.800M1.200 11.500h4.200" stroke="#5f626d" stroke-width="2.200" stroke-linecap="round" fill="none"/></svg>
<div class="abs" style="left:0;top:922px;width:1600px;height:53px;background:linear-gradient(to bottom,rgba(255,255,255,0) 12%,rgba(255,255,255,.42) 55%,rgba(255,255,255,.74) 83%,#fff 100%)"></div>
</div>
</body></html>
